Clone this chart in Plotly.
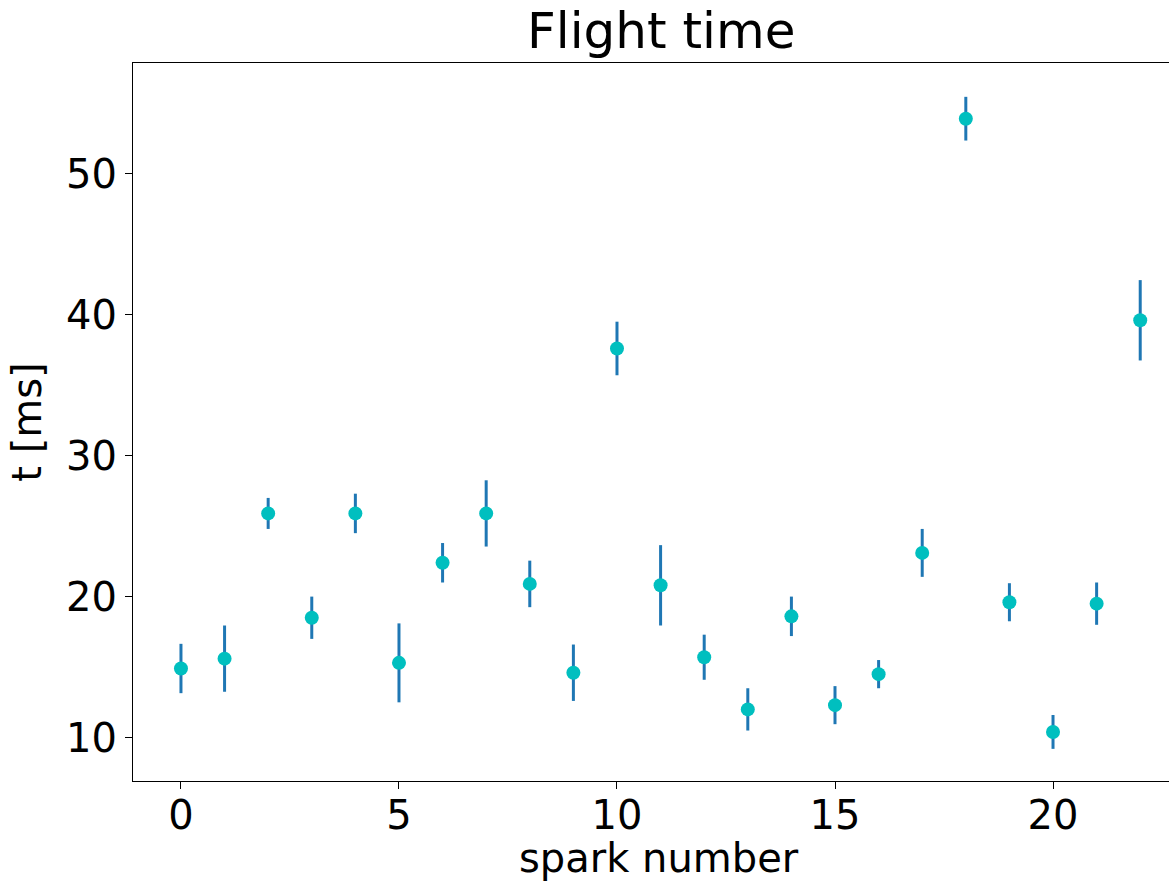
import plotly.graph_objects as go

spark_number = list(range(23))
flight_time = [14.9, 15.6, 25.9, 18.5, 25.9, 15.3, 22.4, 25.9, 20.9, 14.6,
               37.6, 20.8, 15.7, 12.0, 18.6, 12.3, 14.5, 23.1, 53.9, 19.6,
               10.4, 19.5, 39.6]
flight_err = [1.75, 2.35, 1.1, 1.5, 1.4, 2.8, 1.4, 2.35, 1.65, 2.0,
              1.9, 2.85, 1.6, 1.5, 1.4, 1.35, 1.0, 1.7, 1.55, 1.35,
              1.2, 1.5, 2.85]

FONT = "DejaVu Sans"

fig = go.Figure()
fig.add_trace(go.Scatter(
    x=spark_number, y=flight_time, mode="markers",
    marker=dict(color="#00bfbf", size=14, line=dict(width=0)),
    error_y=dict(type="data", array=flight_err, visible=True,
                 color="#1f77b4", thickness=3, width=0),
    showlegend=False,
))

fig.update_layout(
    width=1169, height=883,
    margin=dict(l=133, r=0, t=63, b=102),
    paper_bgcolor="white", plot_bgcolor="white",
    font=dict(family=FONT, color="black"),
    xaxis=dict(range=[-1.1, 22.66], tickvals=[0, 5, 10, 15, 20],
               showgrid=False, zeroline=False,
               showline=True, linecolor="black", linewidth=1, mirror=True,
               ticks="outside", ticklen=7, tickwidth=1, tickcolor="black",
               ticklabelstandoff=-8,
               tickfont=dict(size=40, family=FONT)),
    yaxis=dict(range=[6.92, 57.85], tickvals=[10, 20, 30, 40, 50],
               showgrid=False, zeroline=False,
               showline=True, linecolor="black", linewidth=1, mirror=False,
               ticks="outside", ticklen=7, tickwidth=1, tickcolor="black",
               tickfont=dict(size=40, family=FONT),
               title=dict(text="t [ms]", font=dict(size=40, family=FONT), standoff=12)),
    annotations=[
        dict(text="Flight time", x=661, y=31, xref="paper", yref="paper",
             showarrow=False, font=dict(size=50, family=FONT)),
        dict(text="spark number", x=659, y=858, showarrow=False,
             font=dict(size=40, family=FONT)),
    ],
)

# convert pixel-placed annotations to paper coords
W_plot = 1169 - 133 - 0
H_plot = 883 - 63 - 102
for a in fig.layout.annotations:
    px, py = a.x, a.y
    a.x = (px - 133) / W_plot
    a.y = (883 - 102 - py) / H_plot
    a.xref = "paper"
    a.yref = "paper"
    a.xanchor = "center"
    a.yanchor = "middle"

fig.write_html("out.html")
